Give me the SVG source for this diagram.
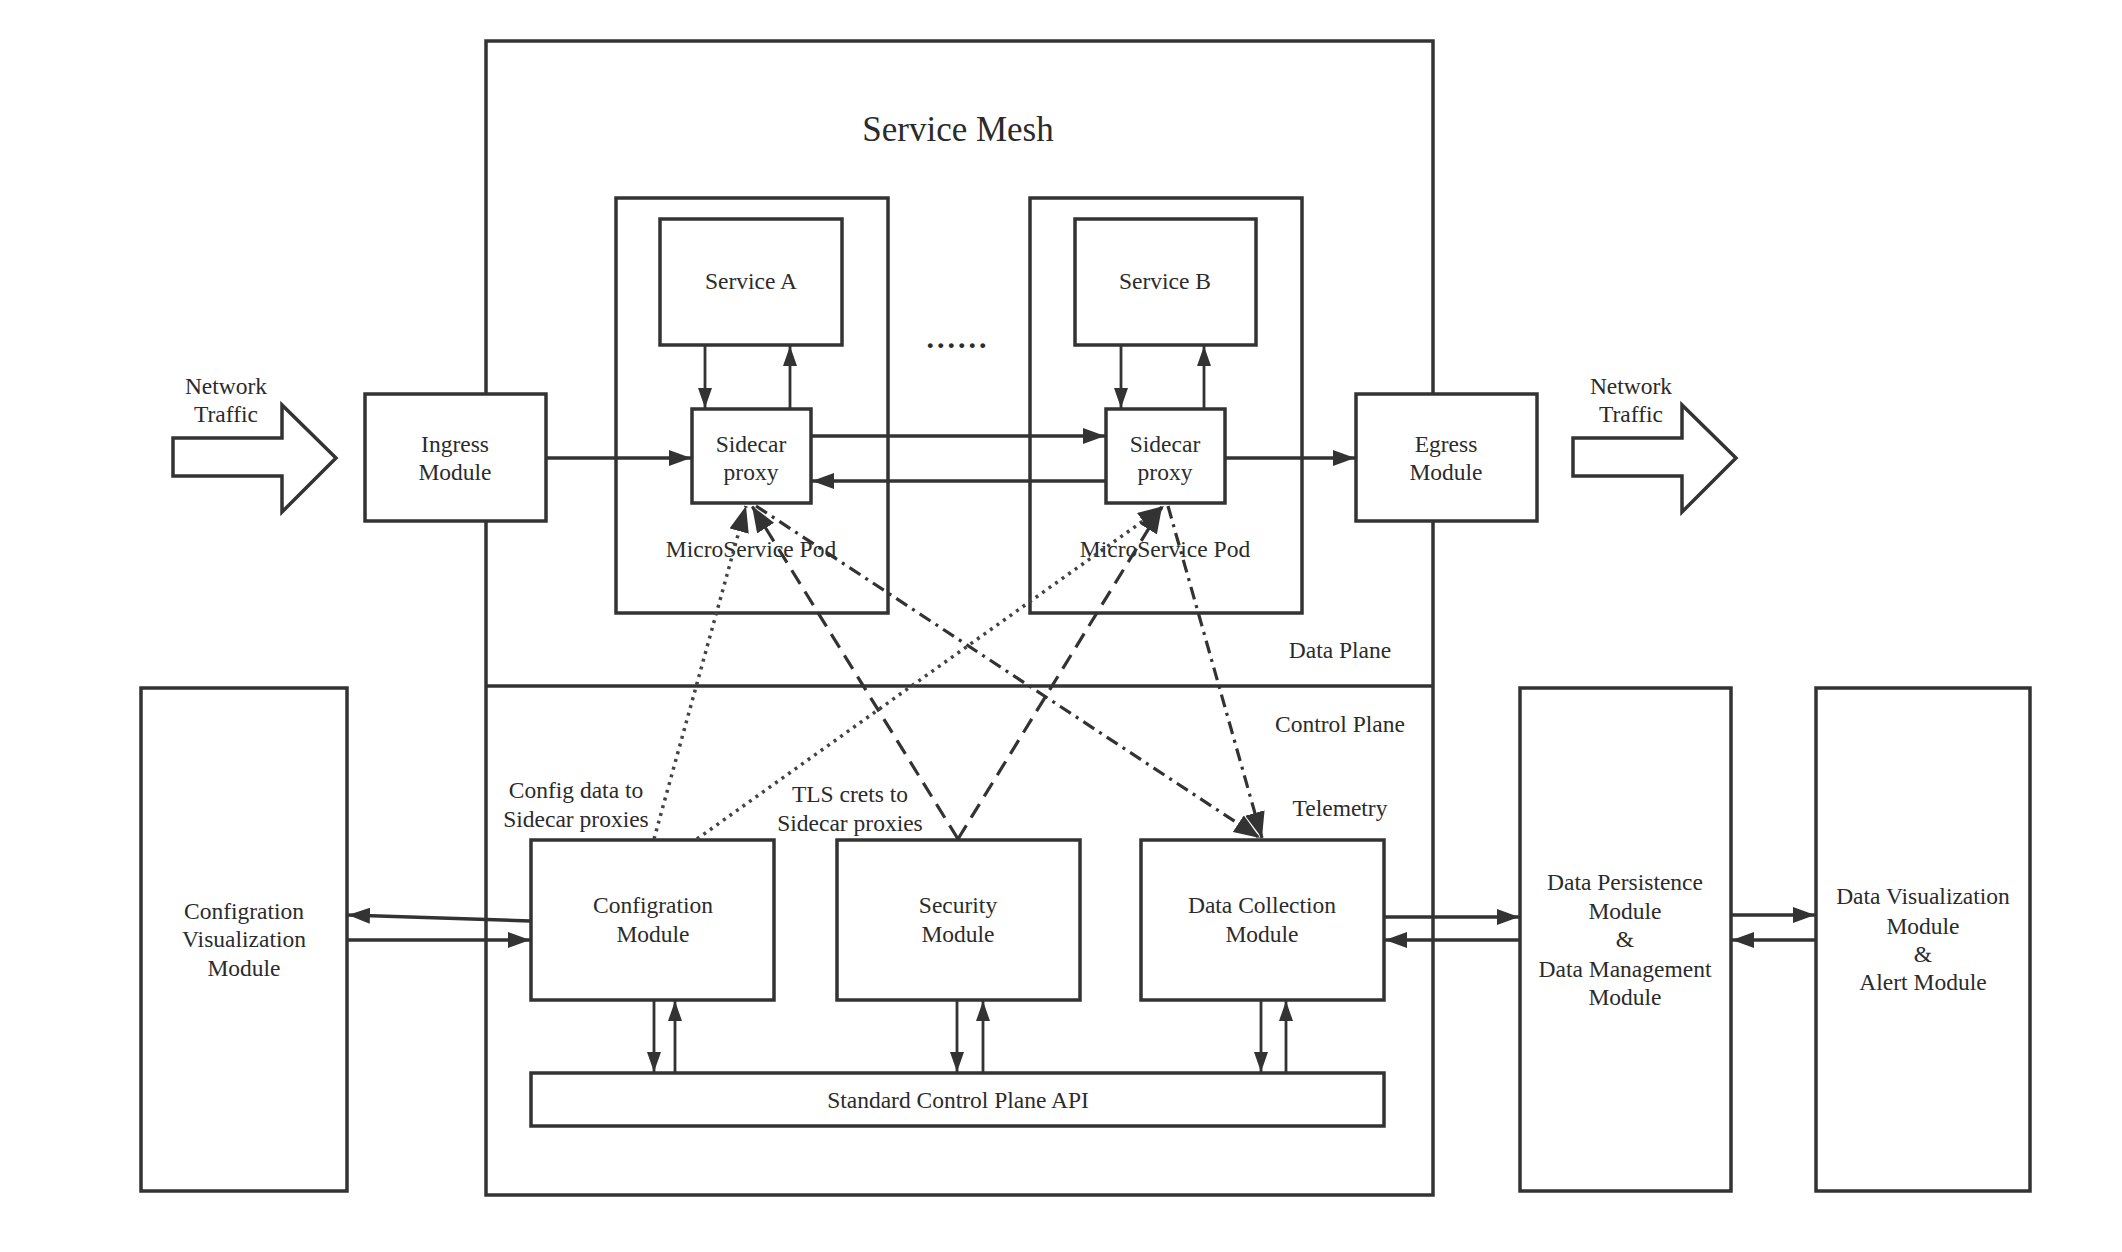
<svg xmlns="http://www.w3.org/2000/svg" width="2122" height="1252" viewBox="0 0 2122 1252">
<defs>
<style>
text{font-family:"Liberation Serif","Times New Roman",serif;fill:#2b2b2b;font-size:23.5px;text-anchor:middle}
.box{fill:#fff;stroke:#333;stroke-width:3.5}
.frame{fill:none;stroke:#333;stroke-width:3.5}
.big{fill:#fff;stroke:#333;stroke-width:3.5;stroke-linejoin:miter}
.ln{fill:none;stroke:#333;stroke-width:3.5}
.thin{fill:none;stroke:#333;stroke-width:2.8}
.dot{fill:none;stroke:#444;stroke-width:3.5;stroke-dasharray:3 5}
.dash{fill:none;stroke:#333;stroke-width:3.2;stroke-dasharray:16 9}
.dd{fill:none;stroke:#333;stroke-width:3.2;stroke-dasharray:13 6 3 6}
</style>
<marker id="ah" markerUnits="userSpaceOnUse" markerWidth="24" markerHeight="16" refX="22" refY="8" orient="auto">
<path d="M0,0 L22,8 L0,16 z" fill="#333" stroke="none"/>
</marker>
<marker id="ahs" markerUnits="userSpaceOnUse" markerWidth="22" markerHeight="14" refX="20" refY="7" orient="auto">
<path d="M0,0 L20,7 L0,14 z" fill="#333" stroke="none"/>
</marker>
<marker id="ahb" markerUnits="userSpaceOnUse" markerWidth="28" markerHeight="20" refX="26" refY="10" orient="auto">
<path d="M0,0 L26,10 L0,20 z" fill="#333" stroke="none"/>
</marker>
</defs>
<rect width="2122" height="1252" fill="#fff"/>

<g id="service-mesh">
<rect class="frame" x="486" y="41" width="947" height="1154"/>
<line class="frame" x1="486" y1="686" x2="1433" y2="686"/>
<text x="958" y="141" style="font-size:35px">Service Mesh</text>
<text x="1340" y="658">Data Plane</text>
<text x="1340" y="732">Control Plane</text>
<text x="1340" y="816">Telemetry</text>
<text x="958" y="348" style="font-size:30px;letter-spacing:3px;font-weight:bold">......</text>
</g>

<g id="pod-a">
<rect class="frame" x="616" y="198" width="272" height="415"/>
<text x="751" y="557">MicroService Pod</text>
</g>
<g id="pod-b">
<rect class="frame" x="1030" y="198" width="272" height="415"/>
<text x="1165" y="557">MicroService Pod</text>
</g>

<g id="service-a">
<rect class="box" x="660" y="219" width="182" height="126"/>
<text x="751" y="289">Service A</text>
</g>
<g id="service-b">
<rect class="box" x="1075" y="219" width="181" height="126"/>
<text x="1165" y="289">Service B</text>
</g>

<g id="sidecar-a">
<rect class="box" x="692" y="409" width="119" height="94"/>
<text x="751" y="452">Sidecar</text>
<text x="751" y="480">proxy</text>
</g>
<g id="sidecar-b">
<rect class="box" x="1106" y="409" width="119" height="94"/>
<text x="1165" y="452">Sidecar</text>
<text x="1165" y="480">proxy</text>
</g>

<g id="ingress">
<rect class="box" x="365" y="394" width="181" height="127"/>
<text x="455" y="452">Ingress</text>
<text x="455" y="480">Module</text>
</g>
<g id="egress">
<rect class="box" x="1356" y="394" width="181" height="127"/>
<text x="1446" y="452">Egress</text>
<text x="1446" y="480">Module</text>
</g>

<g id="traffic-in">
<polygon class="big" points="173,438 282,438 282,405 336,458 282,512 282,476 173,476"/>
<text x="226" y="394">Network</text>
<text x="226" y="422">Traffic</text>
</g>
<g id="traffic-out">
<polygon class="big" points="1573,438 1682,438 1682,405 1736,458 1682,512 1682,476 1573,476"/>
<text x="1631" y="394">Network</text>
<text x="1631" y="422">Traffic</text>
</g>

<g id="config-module">
<rect class="box" x="531" y="840" width="243" height="160"/>
<text x="653" y="913">Configration</text>
<text x="653" y="942">Module</text>
</g>
<g id="security-module">
<rect class="box" x="837" y="840" width="243" height="160"/>
<text x="958" y="913">Security</text>
<text x="958" y="942">Module</text>
</g>
<g id="data-collection-module">
<rect class="box" x="1141" y="840" width="243" height="160"/>
<text x="1262" y="913">Data Collection</text>
<text x="1262" y="942">Module</text>
</g>
<g id="control-plane-api">
<rect class="box" x="531" y="1073" width="853" height="53"/>
<text x="958" y="1108">Standard Control Plane API</text>
</g>

<g id="config-vis-module">
<rect class="box" x="141" y="688" width="206" height="503"/>
<text x="244" y="919">Configration</text>
<text x="244" y="947">Visualization</text>
<text x="244" y="976">Module</text>
</g>
<g id="data-persistence-module">
<rect class="box" x="1520" y="688" width="211" height="503"/>
<text x="1625" y="890">Data Persistence</text>
<text x="1625" y="919">Module</text>
<text x="1625" y="947">&amp;</text>
<text x="1625" y="977">Data Management</text>
<text x="1625" y="1005">Module</text>
</g>
<g id="data-vis-module">
<rect class="box" x="1816" y="688" width="214" height="503"/>
<text x="1923" y="904">Data Visualization</text>
<text x="1923" y="934">Module</text>
<text x="1923" y="962">&amp;</text>
<text x="1923" y="990">Alert Module</text>
</g>

<g id="labels">
<text x="576" y="798">Config data to</text>
<text x="576" y="827">Sidecar proxies</text>
<text x="850" y="802">TLS crets to</text>
<text x="850" y="831">Sidecar proxies</text>
</g>

<g id="connectors">
<line class="thin" x1="705" y1="345" x2="705" y2="408" marker-end="url(#ahs)"/>
<line class="thin" x1="790" y1="409" x2="790" y2="346" marker-end="url(#ahs)"/>
<line class="thin" x1="1121" y1="345" x2="1121" y2="408" marker-end="url(#ahs)"/>
<line class="thin" x1="1204" y1="409" x2="1204" y2="346" marker-end="url(#ahs)"/>

<line class="ln" x1="546" y1="458" x2="691" y2="458" marker-end="url(#ah)"/>
<line class="ln" x1="811" y1="436" x2="1105" y2="436" marker-end="url(#ah)"/>
<line class="ln" x1="1106" y1="481" x2="812" y2="481" marker-end="url(#ah)"/>
<line class="ln" x1="1225" y1="458" x2="1355" y2="458" marker-end="url(#ah)"/>

<line class="thin" x1="654" y1="1000" x2="654" y2="1072" marker-end="url(#ahs)"/>
<line class="thin" x1="675" y1="1073" x2="675" y2="1001" marker-end="url(#ahs)"/>
<line class="thin" x1="957" y1="1000" x2="957" y2="1072" marker-end="url(#ahs)"/>
<line class="thin" x1="983" y1="1073" x2="983" y2="1001" marker-end="url(#ahs)"/>
<line class="thin" x1="1261" y1="1000" x2="1261" y2="1072" marker-end="url(#ahs)"/>
<line class="thin" x1="1286" y1="1073" x2="1286" y2="1001" marker-end="url(#ahs)"/>

<line class="ln" x1="530" y1="921" x2="348" y2="915" marker-end="url(#ah)"/>
<line class="ln" x1="347" y1="940" x2="530" y2="940" marker-end="url(#ah)"/>
<line class="ln" x1="1384" y1="917" x2="1519" y2="917" marker-end="url(#ah)"/>
<line class="ln" x1="1520" y1="940" x2="1385" y2="940" marker-end="url(#ah)"/>
<line class="ln" x1="1731" y1="915" x2="1815" y2="915" marker-end="url(#ah)"/>
<line class="ln" x1="1816" y1="940" x2="1732" y2="940" marker-end="url(#ah)"/>

<line class="dot" x1="654" y1="839" x2="746" y2="506" marker-end="url(#ahb)"/>
<line class="dot" x1="697" y1="839" x2="1164" y2="506" marker-end="url(#ahb)"/>
<line class="dash" x1="958" y1="839" x2="752" y2="506" marker-end="url(#ahb)"/>
<line class="dash" x1="958" y1="839" x2="1162" y2="507" marker-end="url(#ahb)"/>
<line class="dd" x1="756" y1="506" x2="1260" y2="838" marker-end="url(#ahb)"/>
<line class="dd" x1="1168" y1="506" x2="1262" y2="838" marker-end="url(#ahb)"/>
</g>
</svg>
